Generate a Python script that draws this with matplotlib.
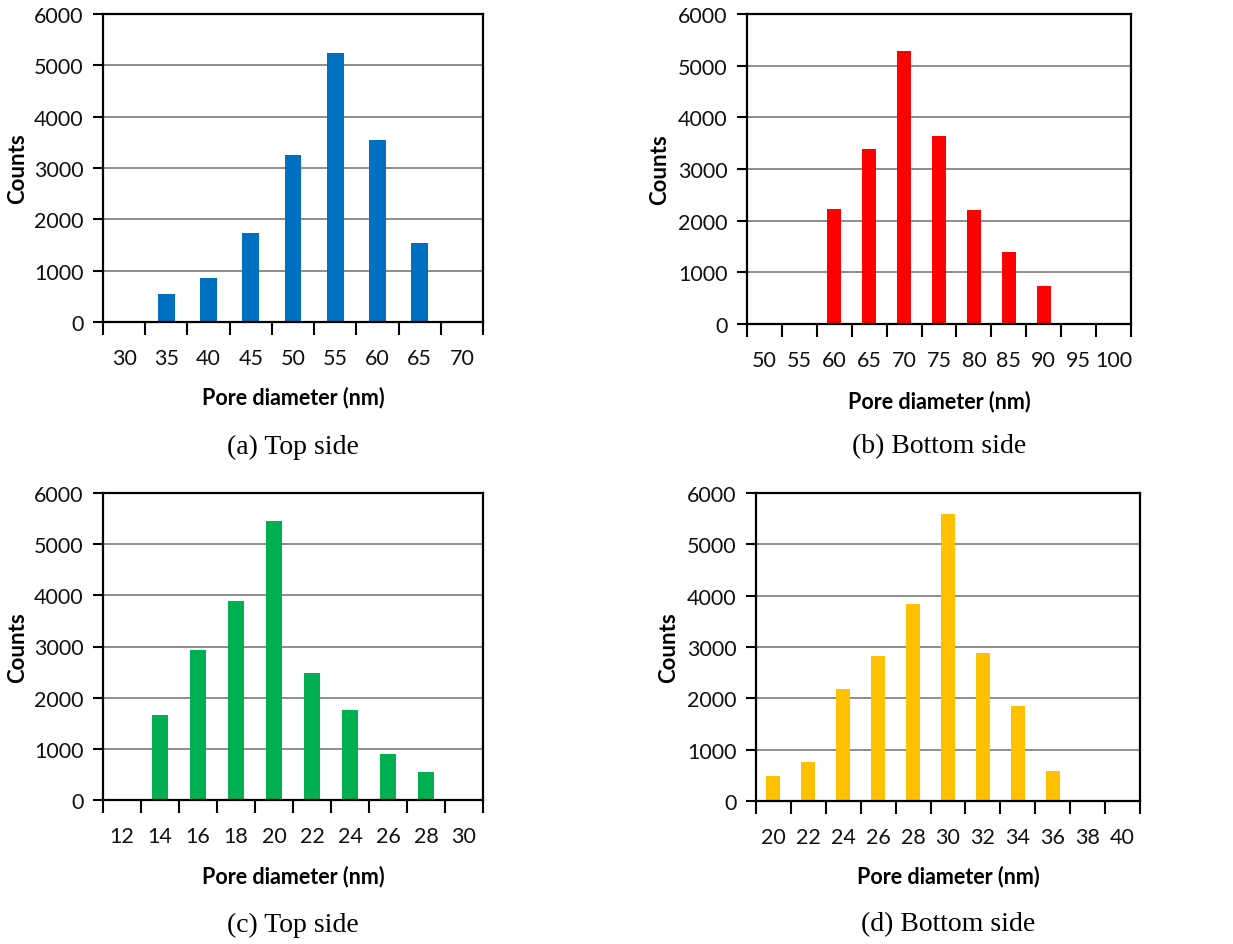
import numpy as np
import matplotlib
matplotlib.use("Agg")
import matplotlib.pyplot as plt
from matplotlib.ticker import FixedLocator, NullFormatter

# Pore size distributions (counts per diameter bin)
top_a_bins = [30, 35, 40, 45, 50, 55, 60, 65, 70]
top_a_counts = [0, 550, 850, 1740, 3250, 5250, 3540, 1530, 0]

bottom_b_bins = [50, 55, 60, 65, 70, 75, 80, 85, 90, 95, 100]
bottom_b_counts = [0, 0, 2230, 3390, 5290, 3645, 2205, 1395, 745, 0, 0]

top_c_bins = [12, 14, 16, 18, 20, 22, 24, 26, 28, 30]
top_c_counts = [0, 1660, 2930, 3890, 5455, 2475, 1760, 895, 540, 0]

bottom_d_bins = [20, 22, 24, 26, 28, 30, 32, 34, 36, 38, 40]
bottom_d_counts = [480, 755, 2180, 2820, 3835, 5600, 2880, 1860, 580, 0, 0]

captions = ["(a) Top side", "(b) Bottom side", "(c) Top side", "(d) Bottom side"]
colors = ["#0070C0", "#FF0000", "#00B050", "#FFC000"]

W, H = 1233, 945
DPI = 100
fig = plt.figure(figsize=(W / DPI, H / DPI), dpi=DPI)

LABEL_FONT = "Lato"
CAPTION_FONT = "Liberation Serif"


def px_axes(left, top, right, bottom):
    return fig.add_axes([left / W, 1 - bottom / H, (right - left) / W, (bottom - top) / H])


def draw_hist(ax, bins, counts, color):
    n = len(bins)
    x = np.arange(n)
    ax.bar(x, counts, width=0.4, color=color, zorder=3)
    ax.set_xlim(-0.5, n - 0.5)
    ax.set_ylim(0, 6000)
    ax.set_yticks(np.arange(0, 6001, 1000))
    ax.set_xticks(x)
    ax.set_xticklabels([str(b) for b in bins])
    # tick marks sit on category boundaries
    ax.xaxis.set_minor_locator(FixedLocator(np.arange(n + 1) - 0.5))
    ax.xaxis.set_minor_formatter(NullFormatter())
    ax.tick_params(axis="x", which="major", length=0, pad=19)
    ax.tick_params(axis="x", which="minor", length=9, width=1.5, direction="out")
    ax.tick_params(axis="y", length=7, width=1.5, pad=7, direction="out")
    for lab in ax.get_xticklabels() + ax.get_yticklabels():
        lab.set_fontfamily(LABEL_FONT)
        lab.set_fontsize(15.5)
        lab.set_color("#111111")
    ax.yaxis.grid(True, color="#8c8c8c", linewidth=1.4, zorder=0)
    ax.set_axisbelow(True)
    for sp in ax.spines.values():
        sp.set_linewidth(1.6)
        sp.set_color("black")
        sp.set_zorder(4)
    ax.set_xlabel("Pore diameter (nm)", fontfamily=LABEL_FONT, fontweight="bold", fontsize=15.5)
    ax.set_ylabel("Counts", fontfamily=LABEL_FONT, fontweight="bold", fontsize=16)


panels = [
    (px_axes(103, 15, 483, 323), top_a_bins, top_a_counts),
    (px_axes(747, 15, 1131, 325), bottom_b_bins, bottom_b_counts),
    (px_axes(103, 494, 483, 801), top_c_bins, top_c_counts),
    (px_axes(756, 494, 1140, 802), bottom_d_bins, bottom_d_counts),
]

# pixel positions: (xlabel y, ylabel x, caption y)
label_pos = [(398, 18, 447), (402, 660, 447), (877, 18, 925), (877, 669, 925)]

for (ax, bins, counts), color, cap, (xl_y, yl_x, cap_y) in zip(panels, colors, captions, label_pos):
    draw_hist(ax, bins, counts, color)
    bb = ax.get_position()
    ax_top = (1 - bb.y1) * H
    ax_bot = (1 - bb.y0) * H
    ax_left = bb.x0 * W
    ax_right = bb.x1 * W
    h = ax_bot - ax_top
    w = ax_right - ax_left
    ax.xaxis.set_label_coords(0.5, -(xl_y - ax_bot) / h)
    ax.xaxis.label.set_va("center")
    ax.yaxis.set_label_coords(-(ax_left - yl_x) / w, 0.5)
    ax.yaxis.label.set_va("center")
    fig.text((ax_left + ax_right) / 2 / W, 1 - cap_y / H, cap, ha="center", va="center",
             fontfamily=CAPTION_FONT, fontsize=20)

fig.savefig("out.png", dpi=DPI, facecolor="white")
